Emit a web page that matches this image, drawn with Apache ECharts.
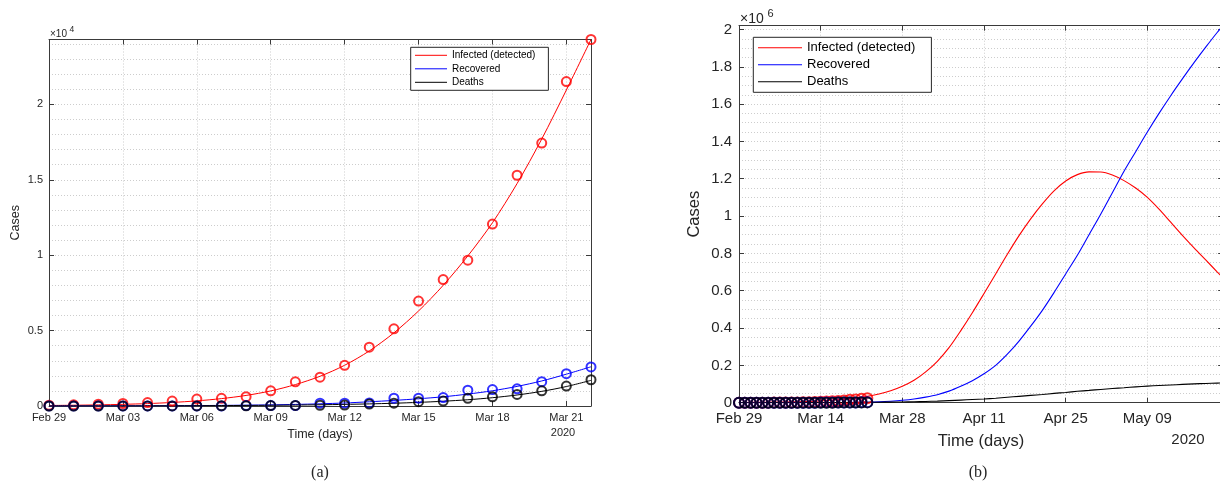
<!DOCTYPE html>
<html><head><meta charset="utf-8">
<script src="https://cdn.jsdelivr.net/npm/echarts@6/dist/echarts.min.js"></script>
<style>html,body{margin:0;padding:0;background:#fff}#c{width:1220px;height:489px}</style>
</head><body><div id="c"></div>
<script>
// ---- data (days counted from Feb 29, 2020) ----
const obsDays = [0,1,2,3,4,5,6,7,8,9,10,11,12,13,14,15,16,17,18,19,20,21,22];
const infectedObs  = [50,80,120,165,230,330,460,510,615,1010,1600,1910,2700,3900,5120,6960,8380,9670,12060,15300,17430,21510,24300];
const recoveredObs = [2,2,2,2,2,2,2,2,30,32,32,190,190,200,520,520,560,1050,1090,1140,1610,2140,2590];
const deathsObs    = [0,0,0,1,2,3,5,10,17,28,36,50,60,130,190,290,330,510,610,770,1010,1320,1740];
const fitInfected  = [35,50,75,110,160,235,340,490,700,1000,1420,1970,2700,3650,4850,6300,8000,9950,12150,14750,17700,20950,24300];
const fitRecovered = [4,6,8,11,15,21,29,40,55,75,105,145,200,280,370,480,610,790,1010,1300,1660,2110,2600];
const fitDeaths    = [4,5,7,9,12,16,21,28,37,48,63,82,107,140,183,240,315,415,550,730,970,1290,1700];

const longDays = [0,2,4,6,8,10,12,14,16,18,20,22,24,26,28,30,32,34,36,38,40,42,44,46,48,50,52,54,56,58,60,62,64,66,68,70,72,74,76,78,80,82,83];
const longInfected  = [1200,1600,2200,2900,4000,5400,7300,9900,13500,18400,25000,34000,47000,64000,88000,120000,165000,222000,295000,385000,482000,585000,690000,795000,895000,985000,1065000,1135000,1188000,1222000,1237000,1236000,1220000,1190000,1150000,1100000,1037000,967000,897000,830000,765000,700000,668000];
const longRecovered = [20,30,45,65,100,150,220,330,500,900,1600,2600,4500,8000,13000,20000,30000,43000,62000,88000,118000,155000,200000,260000,330000,410000,495000,590000,690000,790000,900000,1010000,1125000,1240000,1345000,1450000,1550000,1645000,1735000,1822000,1905000,1985000,2020000];
const longDeaths    = [4,7,12,21,37,63,107,183,315,550,970,1700,2500,3200,4000,5000,6500,8500,11000,14000,17000,20000,24000,29000,34000,39000,44000,50000,55000,61000,66000,71000,76000,80000,85000,89000,92000,95000,98000,101000,103000,105000,106000];

const tickDaysA = [0,3,6,9,12,15,18,21];
const tickLabelsA = ['Feb 29','Mar 03','Mar 06','Mar 09','Mar 12','Mar 15','Mar 18','Mar 21'];
const tickDaysB = [0,14,28,42,56,70];
const tickLabelsB = ['Feb 29','Mar 14','Mar 28','Apr 11','Apr 25','May 09'];
const seriesNames = ['Infected (detected)','Recovered','Deaths'];

// ---- styling ----
const FONT = 'Liberation Sans, Arial, Helvetica, sans-serif';
const AX = '#3a3a3a';
const TXT = '#262626';
const GRIDC = '#cdcdcd';
const RED = '#ff0000', BLUE = '#0000ff', BLACK = '#000000';

function labelFor(days, labels) {
  return function (v) { const i = days.indexOf(Math.round(v)); return (i >= 0 && Math.abs(v - days[i]) < 1e-6) ? labels[i] : ''; };
}
function pairs(xs, ys) { return xs.map((x, i) => [x, ys[i]]); }

function frameX(grid, max, interval, pos) {
  return { gridIndex: grid, type: 'value', min: 0, max: max, interval: interval, position: pos,
    axisLine: { show: true, onZero: false, lineStyle: { color: AX, width: 1 } },
    axisTick: { show: true, inside: true, length: 5, lineStyle: { color: AX } },
    axisLabel: { show: false }, splitLine: { show: false } };
}
function frameY(grid, max, interval, pos) {
  return { gridIndex: grid, type: 'value', min: 0, max: max, interval: interval, position: pos,
    axisLine: { show: true, onZero: false, lineStyle: { color: AX, width: 1 } },
    axisTick: { show: true, inside: true, length: 5, lineStyle: { color: AX } },
    axisLabel: { show: false }, splitLine: { show: false } };
}
function gridY(grid, max, interval) {
  return { gridIndex: grid, type: 'value', min: 0, max: max, interval: interval, position: 'left',
    axisLine: { show: false }, axisTick: { show: false }, axisLabel: { show: false },
    splitLine: { show: true, lineStyle: { color: GRIDC, width: 1, type: [1, 2] } } };
}

const xA = frameX(0, 22, 3, 'bottom');
Object.assign(xA, {
  axisLabel: { show: true, formatter: labelFor(tickDaysA, tickLabelsA), color: TXT, fontSize: 11, fontFamily: FONT, margin: 6 },
  splitLine: { show: true, lineStyle: { color: GRIDC, width: 1, type: [1, 2] } },
  name: 'Time (days)', nameLocation: 'middle', nameGap: 22,
  nameTextStyle: { color: TXT, fontSize: 12.5, fontFamily: FONT }
});
const yA = frameY(0, 24300, 5000, 'left');
Object.assign(yA, {
  axisLabel: { show: true, formatter: v => (v % 5000 === 0 ? String(v / 1e4) : ''), color: TXT, fontSize: 11, fontFamily: FONT, margin: 6 },
  name: 'Cases', nameLocation: 'middle', nameGap: 27, nameRotate: 90,
  nameTextStyle: { color: TXT, fontSize: 12.5, fontFamily: FONT }
});

const xB = frameX(1, 83, 14, 'bottom');
Object.assign(xB, {
  axisLabel: { show: true, formatter: labelFor(tickDaysB, tickLabelsB), color: TXT, fontSize: 15, fontFamily: FONT, margin: 9 },
  splitLine: { show: true, lineStyle: { color: GRIDC, width: 1, type: [1, 2] } },
  name: 'Time (days)', nameLocation: 'middle', nameGap: 30,
  nameTextStyle: { color: TXT, fontSize: 16.5, fontFamily: FONT }
});
const yB = frameY(1, 2020000, 200000, 'left');
Object.assign(yB, {
  axisLabel: { show: true, formatter: v => (v % 200000 === 0 ? String(+(v / 1e6).toFixed(1)) : ''), color: TXT, fontSize: 15, fontFamily: FONT, margin: 7 },
  name: 'Cases', nameLocation: 'middle', nameGap: 36, nameRotate: 90,
  nameTextStyle: { color: TXT, fontSize: 16.5, fontFamily: FONT }
});

function lineS(name, xi, yi, data, color, w) {
  return { name: name, type: 'line', xAxisIndex: xi, yAxisIndex: yi, data: data, smooth: 0.3,
    showSymbol: false, symbol: 'none', color: color, lineStyle: { color: color, width: w }, clip: true,
    emphasis: { disabled: true }, silent: true, z: 2 };
}
function dotS(name, xi, yi, data, color, size) {
  return { name: name, type: 'scatter', xAxisIndex: xi, yAxisIndex: yi, data: data, symbol: 'circle', symbolSize: size,
    itemStyle: { color: 'rgba(0,0,0,0)', borderColor: color, borderWidth: 2 }, clip: false,
    emphasis: { disabled: true }, silent: true, z: 3 };
}

function txt(x, y, text, font, align, valign) {
  return { type: 'text', x: x, y: y, silent: true, z: 10,
    style: { text: text, font: font, fill: TXT, align: align || 'center', verticalAlign: valign || 'middle' } };
}

const option = {
  animation: false,
  backgroundColor: '#ffffff',
  grid: [
    { left: 49, top: 39.5, width: 542, height: 366.5, containLabel: false, outerBoundsMode: 'none' },
    { left: 739, top: 25.7, width: 484.2, height: 377, containLabel: false, outerBoundsMode: 'none' }
  ],
  xAxis: [xA, frameX(0, 22, 3, 'top'), xB, frameX(1, 83, 14, 'top')],
  yAxis: [yA, frameY(0, 24300, 5000, 'right'), gridY(0, 24300, 1000),
          yB, frameY(1, 2020000, 200000, 'right'), gridY(1, 2020000, 50000)],
  legend: [
    { data: seriesNames, orient: 'vertical', left: 410.7, top: 47.3, padding: [3, 13, 3, 4.3], itemGap: 3.5,
      itemWidth: 32, itemHeight: 1, icon: 'rect', selectedMode: false,
      backgroundColor: '#ffffff', borderColor: '#262626', borderWidth: 1,
      textStyle: { fontSize: 10, fontFamily: FONT, color: '#000' } },
    { data: seriesNames, orient: 'vertical', left: 753.3, top: 37.3, padding: [4, 16, 4, 4.7], itemGap: 4,
      itemWidth: 44, itemHeight: 1, icon: 'rect', selectedMode: false,
      backgroundColor: '#ffffff', borderColor: '#262626', borderWidth: 1,
      textStyle: { fontSize: 13, fontFamily: FONT, color: '#000' } }
  ],
  series: [
    lineS(seriesNames[0], 0, 0, pairs(obsDays, fitInfected), RED, 1),
    lineS(seriesNames[1], 0, 0, pairs(obsDays, fitRecovered), BLUE, 1),
    lineS(seriesNames[2], 0, 0, pairs(obsDays, fitDeaths), BLACK, 1),
    dotS('Infected data (a)', 0, 0, pairs(obsDays, infectedObs), RED, 9),
    dotS('Recovered data (a)', 0, 0, pairs(obsDays, recoveredObs), BLUE, 9),
    dotS('Deaths data (a)', 0, 0, pairs(obsDays, deathsObs), BLACK, 9),

    lineS(seriesNames[0], 2, 3, pairs(longDays, longInfected), RED, 1.1),
    lineS(seriesNames[1], 2, 3, pairs(longDays, longRecovered), BLUE, 1.1),
    lineS(seriesNames[2], 2, 3, pairs(longDays, longDeaths), BLACK, 1.1),
    dotS('Infected data (b)', 2, 3, pairs(obsDays, infectedObs), RED, 10),
    dotS('Recovered data (b)', 2, 3, pairs(obsDays, recoveredObs), BLUE, 10),
    dotS('Deaths data (b)', 2, 3, pairs(obsDays, deathsObs), BLACK, 10)
  ],
  graphic: [
    txt(563, 433, '2020', '11px ' + FONT),
    txt(1188, 440, '2020', '15px ' + FONT),
    txt(50, 34, '\u00d710', '10px ' + FONT, 'left'),
    txt(69.5, 30, '4', '8.5px ' + FONT, 'left'),
    txt(740, 19, '\u00d710', '14px ' + FONT, 'left'),
    txt(767.5, 13.5, '6', '11px ' + FONT, 'left'),
    txt(320, 473, '(a)', '16px Liberation Serif, Times New Roman, serif'),
    txt(978, 473, '(b)', '16px Liberation Serif, Times New Roman, serif')
  ]
};

const chart = echarts.init(document.getElementById('c'), null, { renderer: 'canvas', width: 1220, height: 489 });
chart.setOption(option);
</script></body></html>
